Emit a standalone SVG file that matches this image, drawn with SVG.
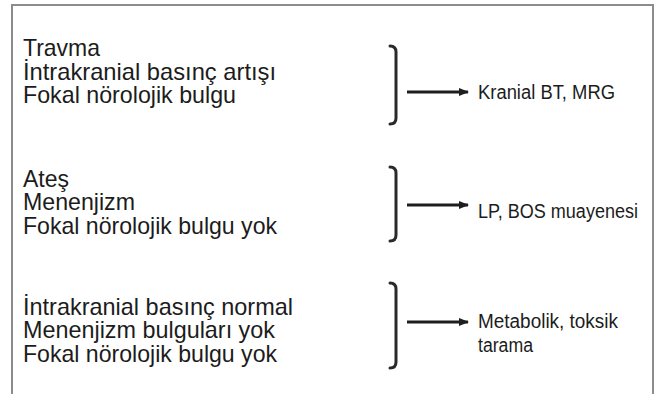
<svg xmlns="http://www.w3.org/2000/svg" width="654" height="394" viewBox="0 0 654 394">
  <defs>
    <style>
      .frame { fill: none; stroke: #8c8c8c; stroke-width: 2; }
      .cond { font-family: "Liberation Sans Narrow", "Liberation Sans", "DejaVu Sans Condensed", sans-serif; fill: #1c1c1c; }
      .main { font-size: 24px; }
      .result { font-size: 20px; }
      .brace { fill: none; stroke: #2a2a2a; stroke-width: 3; stroke-linecap: round; stroke-linejoin: round; }
      .arrow { fill: none; stroke: #1e1e1e; stroke-width: 3; }
    </style>
    <marker id="head" markerWidth="10" markerHeight="8" refX="9" refY="4" orient="auto" markerUnits="userSpaceOnUse">
      <path d="M0,0 L10,4 L0,8 Z" fill="#1e1e1e"/>
    </marker>
  </defs>

  <rect width="654" height="394" fill="#ffffff"/>
  <!-- open frame: top, left and right edges -->
  <path class="frame" d="M12,394 V5 H653 V394"/>

  <!-- group 1 -->
  <g id="group-trauma">
    <text class="cond main" x="23" y="56" textLength="77" lengthAdjust="spacingAndGlyphs">Travma</text>
    <text class="cond main" x="23" y="79.5" textLength="253" lengthAdjust="spacingAndGlyphs">İntrakranial basınç artışı</text>
    <text class="cond main" x="23" y="103" textLength="213" lengthAdjust="spacingAndGlyphs">Fokal nörolojik bulgu</text>
    <path class="brace" d="M390,46 Q396,46 396,52 V118 Q396,124 390,124"/>
  </g>
  <g id="result-imaging">
    <text class="cond result" x="478" y="99" textLength="137" lengthAdjust="spacingAndGlyphs">Kranial BT, MRG</text>
  </g>

  <!-- group 2 -->
  <g id="group-meningism">
    <text class="cond main" x="23" y="186.5" textLength="46" lengthAdjust="spacingAndGlyphs">Ateş</text>
    <text class="cond main" x="23" y="210" textLength="112" lengthAdjust="spacingAndGlyphs">Menenjizm</text>
    <text class="cond main" x="23" y="233.5" textLength="254" lengthAdjust="spacingAndGlyphs">Fokal nörolojik bulgu yok</text>
    <path class="brace" d="M390,167 Q396,167 396,173 V235 Q396,241 390,241"/>
  </g>
  <g id="result-lp">
    <text class="cond result" x="478" y="218" textLength="160" lengthAdjust="spacingAndGlyphs">LP, BOS muayenesi</text>
  </g>

  <!-- group 3 -->
  <g id="group-metabolic">
    <text class="cond main" x="23" y="314.5" textLength="270" lengthAdjust="spacingAndGlyphs">İntrakranial basınç normal</text>
    <text class="cond main" x="23" y="338" textLength="252" lengthAdjust="spacingAndGlyphs">Menenjizm bulguları yok</text>
    <text class="cond main" x="23" y="361.5" textLength="254" lengthAdjust="spacingAndGlyphs">Fokal nörolojik bulgu yok</text>
    <path class="brace" d="M390,283 Q396,283 396,289 V362 Q396,368 390,368"/>
  </g>
  <g id="result-metabolic">
    <text class="cond result" x="478" y="328" textLength="140" lengthAdjust="spacingAndGlyphs">Metabolik, toksik</text>
    <text class="cond result" x="478" y="352" textLength="55" lengthAdjust="spacingAndGlyphs">tarama</text>
  </g>

  <!-- connectors -->
  <g id="connectors">
    <line class="arrow" x1="407" y1="92" x2="468" y2="92" marker-end="url(#head)"/>
    <line class="arrow" x1="407" y1="205" x2="468" y2="205" marker-end="url(#head)"/>
    <line class="arrow" x1="407" y1="322" x2="468" y2="322" marker-end="url(#head)"/>
  </g>
</svg>
